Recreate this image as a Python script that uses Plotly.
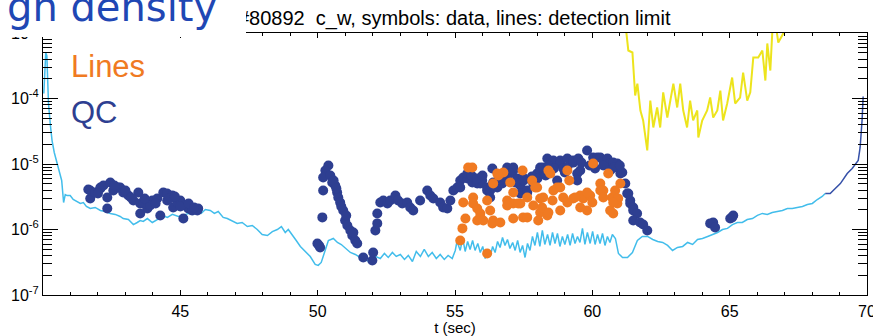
import plotly.graph_objects as go

# ---------------- data ----------------
# QC detection limit (light blue line)
qc_lim_t = [40.03, 40.05, 40.10, 40.14, 40.16, 40.20, 40.27, 40.33, 40.41, 40.51, 40.63, 40.68, 40.75, 40.81,
            40.88, 40.99, 41.10, 41.21, 41.36, 41.47, 41.58, 41.72, 41.90, 42.09, 42.27, 42.45, 42.63, 42.81,
            42.92, 43.11, 43.29, 43.43, 43.54, 43.65, 43.80, 43.98, 44.16, 44.34, 44.53, 44.71, 44.93, 45.11,
            45.29, 45.47, 45.62, 45.76, 45.91, 46.09, 46.24, 46.38, 46.56, 46.71, 46.89, 47.07, 47.25, 47.44,
            47.62, 47.80, 47.98, 48.17, 48.35, 48.53, 48.68, 48.82, 48.93, 49.07, 49.22, 49.37, 49.55, 49.73,
            49.91, 50.02, 50.13, 50.28, 50.39, 50.57, 50.72, 50.86, 51.01, 51.19, 51.37, 51.55, 51.73, 51.92,
            52.10, 52.28, 52.43, 52.57, 52.72, 52.86, 53.01, 53.16, 53.30, 53.45, 53.59, 53.74, 53.88, 54.03,
            54.17, 54.32, 54.46, 54.61, 54.75, 54.90, 55.01, 55.08,
            55.10, 55.19, 55.28, 55.37, 55.46, 55.55, 55.64, 55.73, 55.83, 55.92, 56.01, 56.10, 56.19, 56.28,
            56.37, 56.46, 56.55, 56.64, 56.73, 56.82, 56.91, 57.00, 57.10, 57.19, 57.28, 57.37, 57.46, 57.55,
            57.64, 57.73, 57.82, 57.91, 58.00, 58.09, 58.18, 58.27, 58.37, 58.46, 58.55, 58.64, 58.73, 58.82,
            58.91, 59.00, 59.10, 59.19, 59.28, 59.37, 59.46, 59.55, 59.64, 59.73, 59.82, 59.92, 60.01, 60.10,
            60.19, 60.28, 60.37, 60.46, 60.55, 60.64, 60.73, 60.84, 60.95, 61.10, 61.28, 61.46, 61.64, 61.82,
            62.01, 62.20, 62.38, 62.56, 62.74, 62.92, 63.10, 63.29, 63.47, 63.65, 63.83, 64.01, 64.20, 64.38,
            64.56, 64.74, 64.92, 65.10, 65.28, 65.46, 65.64, 65.83, 66.01, 66.19, 66.37, 66.55, 66.74, 66.92,
            67.10, 67.28, 67.46, 67.65, 67.83, 68.01, 68.19, 68.37, 68.48]
qc_lim_v = [1.19e-4, 1.88e-4, 5.0e-4, 4.5e-4, 1.88e-4, 8.4e-5, 3.87e-5, 2.28e-5, 1.5e-5, 1.02e-5, 6.2e-6, 5.6e-6,
            2.58e-6, 3.42e-6, 3.30e-6, 3.30e-6, 2.87e-6, 2.68e-6, 2.50e-6, 2.58e-6, 2.25e-6, 2.09e-6, 2.17e-6,
            1.95e-6, 1.88e-6, 1.76e-6, 1.70e-6, 1.58e-6, 1.47e-6, 1.42e-6, 1.19e-6, 1.28e-6, 1.37e-6, 1.33e-6,
            1.47e-6, 1.28e-6, 1.42e-6, 1.64e-6, 1.53e-6, 1.70e-6, 1.58e-6, 1.64e-6, 1.76e-6, 1.70e-6, 1.88e-6,
            1.76e-6, 2.02e-6, 1.95e-6, 1.76e-6, 1.88e-6, 1.53e-6, 1.47e-6, 1.33e-6, 1.24e-6, 1.28e-6, 1.11e-6,
            1.15e-6, 1.00e-6, 8.4e-7, 8.1e-7, 9.3e-7, 1.00e-6, 1.11e-6, 9.0e-7, 1.00e-6, 8.4e-7, 6.8e-7, 5.5e-7,
            4.6e-7, 3.87e-7, 2.93e-7, 2.83e-7, 3.14e-7, 4.79e-7, 6.8e-7, 7.3e-7, 6.34e-7, 5.9e-7, 5.14e-7,
            4.46e-7, 4.16e-7, 3.74e-7, 3.49e-7, 3.14e-7, 3.88e-7, 3.61e-7, 4.31e-7, 3.74e-7, 4.46e-7, 3.88e-7,
            4.16e-7, 3.49e-7, 4.02e-7, 3.25e-7, 4.62e-7, 3.88e-7, 4.96e-7, 3.88e-7, 4.46e-7, 3.61e-7, 4.16e-7,
            3.49e-7, 4.02e-7, 3.61e-7, 4.79e-7, 6.8e-7,
            6.12e-7, 4.79e-7, 7.30e-7, 4.62e-7, 6.57e-7, 4.96e-7, 6.80e-7, 4.79e-7, 6.12e-7, 4.46e-7, 5.51e-7,
            3.61e-7, 4.79e-7, 3.88e-7, 5.51e-7, 4.46e-7, 6.57e-7, 5.32e-7, 7.56e-7, 5.71e-7, 7.04e-7, 5.14e-7,
            6.34e-7, 4.79e-7, 6.80e-7, 4.46e-7, 5.71e-7, 3.74e-7, 6.12e-7, 4.79e-7, 7.83e-7, 5.71e-7, 9.00e-7,
            5.51e-7, 9.66e-7, 5.91e-7, 8.39e-7, 5.71e-7, 9.00e-7, 6.12e-7, 8.69e-7, 5.51e-7, 7.83e-7, 5.91e-7,
            8.39e-7, 5.71e-7, 8.69e-7, 6.12e-7, 7.83e-7, 6.34e-7, 1.04e-6, 5.91e-7, 9.00e-7, 6.12e-7, 9.33e-7,
            5.91e-7, 8.39e-7, 6.12e-7, 8.69e-7, 5.71e-7, 7.83e-7, 6.34e-7, 8.39e-7, 7.30e-7, 4.31e-7, 3.74e-7,
            3.74e-7, 4.46e-7, 6.80e-7, 7.83e-7, 7.83e-7, 7.04e-7, 6.57e-7, 6.34e-7, 5.71e-7, 4.79e-7, 5.32e-7,
            5.51e-7, 6.34e-7, 5.91e-7, 7.04e-7, 7.30e-7, 7.83e-7, 8.39e-7, 9.00e-7, 1.00e-6, 1.04e-6, 1.19e-6,
            1.28e-6, 1.28e-6, 1.42e-6, 1.47e-6, 1.64e-6, 1.76e-6, 1.70e-6, 1.82e-6, 1.88e-6, 1.95e-6, 2.09e-6,
            2.09e-6, 2.17e-6, 2.25e-6, 2.41e-6, 2.50e-6, 2.87e-6, 3.19e-6, 3.54e-6]

# QC detection limit, last part (dark blue line)
qc_lim2_t = [68.48, 68.66, 68.77, 69.03, 69.28, 69.46, 69.68, 69.75, 69.82, 69.86]
qc_lim2_v = [3.54e-6, 3.54e-6, 3.94e-6, 5.03e-6, 7.15e-6, 8.52e-6, 1.13e-5, 1.79e-5, 4.62e-5, 1.07e-4]

# Lines detection limit (yellow line)
lines_lim_t = [61.22, 61.31, 61.46, 61.49, 61.56, 61.64, 61.75, 61.85, 62.00, 62.11, 62.22, 62.36, 62.47, 62.58,
               62.73, 62.84, 62.95, 63.09, 63.20, 63.31, 63.45, 63.56, 63.67, 63.82, 63.86, 64.00, 64.18, 64.29,
               64.40, 64.55, 64.66, 64.76, 64.91, 65.09, 65.20, 65.38, 65.49, 65.64, 65.75, 65.86, 66.04, 66.19,
               66.30, 66.37, 66.48, 66.55, 66.66, 66.77, 66.95, 67.06]
lines_lim_v = [1.2e-3, 5.41e-4, 5.04e-4, 3.42e-4, 1.11e-4, 1.69e-4, 6.56e-5, 4.62e-5, 1.61e-5, 9.31e-5, 3.61e-5,
               7.29e-5, 3.61e-5, 1.24e-4, 5.13e-5, 9.31e-5, 1.69e-4, 7.29e-5, 1.69e-4, 6.56e-5, 3.61e-5, 9.31e-5,
               4.62e-5, 6.56e-5, 2.54e-5, 4.62e-5, 6.56e-5, 1.035e-4, 5.13e-5, 6.56e-5, 1.32e-4, 4.62e-5, 8.39e-5,
               2.09e-4, 8.39e-5, 1.035e-4, 2.49e-4, 9.31e-5, 1.24e-4, 4.23e-4, 4.23e-4, 5.41e-4, 1.88e-4, 6.92e-4,
               2.67e-4, 1.0e-3, 1.5e-3, 7.16e-4, 9.8e-4, 1.5e-3]

# QC data (dark blue symbols), density in units of 1e-6
qc_t = [41.65, 41.72, 41.72, 41.90, 42.09, 42.09, 42.20, 42.45, 42.34, 42.56, 42.74, 42.81, 42.92, 43.11, 43.29,
        43.47, 42.34, 43.54, 43.54, 43.65, 43.80, 43.98, 44.16, 44.27, 44.38, 44.52, 44.52, 44.71, 44.74, 44.89,
        45.00, 45.11, 45.18, 45.29, 45.43, 45.62, 45.65, 42.00, 42.60, 43.00, 43.20, 43.90, 44.10, 44.60, 44.80,
        45.00, 45.30, 45.50, 43.70,
        50.39, 50.28, 50.20, 50.46, 50.53, 50.64, 50.20, 50.71, 50.75, 50.82, 50.93, 51.00, 51.08, 51.19, 51.26,
        51.37, 51.44, 50.17, 49.99, 50.09, 51.66, 51.99, 52.02, 50.86, 51.04, 51.30, 50.58, 50.68, 50.05,
        52.10, 52.17, 52.17, 52.28, 52.39, 52.54, 52.64, 52.83, 52.93, 53.08, 53.26, 53.37, 53.48, 53.73, 53.99,
        54.10, 54.21, 54.46, 54.57, 54.72, 54.83, 54.94, 55.08, 55.19, 55.19, 55.30, 55.45, 55.45, 55.63, 55.66,
        55.81, 55.92, 55.99, 56.17, 56.17, 56.28, 56.28, 56.39, 56.36, 56.54, 56.72, 56.90, 57.12, 57.12, 57.01,
        57.27, 57.38, 57.38, 57.48, 57.63, 57.63, 57.85, 57.99, 57.99, 58.10, 58.10, 58.21, 58.36, 58.58, 58.72,
        58.83, 58.83, 58.94, 59.09, 59.09, 59.30, 59.30, 59.45, 59.49, 59.45, 59.56, 59.81, 60.03, 60.18, 60.29,
        60.40, 60.55, 60.65, 60.65, 60.76, 60.91, 61.02, 61.09, 61.20, 61.27, 61.31, 61.38, 61.38, 61.49, 61.49,
        61.63, 61.49, 61.74, 61.85, 62.00, 64.29, 64.40, 64.47, 65.02, 65.09, 65.13,
        55.60, 55.80, 56.00, 56.60, 57.20, 57.80, 58.40, 58.60, 59.00, 59.60, 59.90, 60.10, 60.40, 60.80, 61.00,
        58.00, 58.30, 57.50, 56.80]
qc_v = [4.08, 2.97, 3.94, 3.67, 4.22, 4.38, 4.69, 5.21, 3.08, 3.94, 4.38, 4.38, 3.67, 3.30, 2.77,
        3.67, 2.09, 1.76, 2.50, 2.50, 2.09, 2.77, 2.97, 1.64, 3.67, 2.77, 3.54, 3.30, 2.17, 2.58,
        2.77, 1.47, 2.33, 2.09, 1.95, 1.95, 2.09, 3.54, 4.69, 3.94, 3.08, 2.33, 2.50, 2.97, 3.19,
        2.25, 2.50, 2.17, 2.97,
        9.47, 7.94, 6.21, 6.67, 5.21, 4.69, 3.94, 3.67, 3.08, 2.58, 1.95, 1.37, 1.15, 0.966, 0.81,
        0.68, 0.612, 1.53, 0.612, 0.532, 0.374, 0.337, 0.446, 2.25, 1.64, 0.90, 5.59, 4.22, 0.571,
        0.966, 1.24, 1.76, 2.58, 2.77, 2.50, 2.77, 3.30, 2.77, 2.50, 2.58, 2.17, 1.95, 2.77, 3.94,
        3.30, 2.97, 2.58, 2.17, 2.09, 2.77, 3.94, 4.38, 5.59, 4.38, 6.21, 6.00, 7.15, 5.21, 6.21,
        5.03, 5.03, 5.59, 4.38, 3.94, 3.94, 3.08, 5.21, 8.52, 4.38, 5.03, 8.83, 8.83, 7.94, 7.15,
        6.00, 4.69, 3.54, 6.21, 3.67, 3.94, 5.03, 6.67, 7.15, 7.94, 8.83, 8.83, 12.1, 11.3, 5.59,
        11.3, 10.2, 8.52, 12.1, 8.83, 10.5, 11.3, 7.15, 12.1, 5.59, 7.94, 16.1, 12.6, 12.6, 12.6,
        11.3, 12.1, 10.2, 7.94, 10.5, 10.2, 7.15, 7.41, 5.03, 3.54, 3.54, 2.77, 2.50, 2.17, 1.95,
        1.76, 1.37, 1.28, 1.19, 0.966, 1.24, 1.28, 1.075, 1.47, 1.53, 1.64,
        6.67, 6.00, 6.67, 5.59, 5.21, 6.44, 9.47, 8.52, 7.41, 10.5, 9.47, 8.52, 9.47, 8.83, 9.47,
        6.00, 6.67, 5.59, 6.21]

# Lines data (orange symbols), density in units of 1e-6
lines_t = [55.48, 55.63, 55.30, 55.38, 55.27, 55.19, 55.66, 55.66, 55.81, 55.92, 55.81, 55.92, 56.17, 56.03, 56.28,
           56.39, 56.39, 56.58, 56.76, 56.54, 57.01, 57.12, 56.90, 57.12, 57.38, 57.12, 57.48, 57.63, 57.85, 57.46,
           57.81, 57.99, 58.10, 58.10, 58.21, 58.36, 58.40, 58.47, 58.58, 58.72, 58.83, 58.94, 59.09, 59.16, 59.30,
           59.56, 59.67, 59.92, 59.81, 60.03, 60.29, 60.40, 60.58, 60.72, 60.76, 60.91, 61.02, 56.17, 56.36, 56.65,
           56.90, 57.30, 57.63, 57.92, 58.03, 58.17, 58.55, 58.40, 58.83, 59.09, 59.37, 59.56, 59.81, 60.00, 60.29,
           60.40, 60.65, 60.83, 60.94, 60.76]
lines_v = [8.83, 8.83, 2.58, 1.47, 1.04, 0.68, 3.08, 2.50, 2.09, 1.76, 1.37, 1.53, 2.77, 1.37, 1.95,
           1.37, 5.03, 6.67, 7.41, 7.15, 5.21, 3.67, 2.77, 2.50, 2.50, 1.47, 1.53, 3.08, 2.33, 7.94,
           5.59, 4.38, 2.97, 1.82, 3.08, 1.64, 7.94, 7.15, 3.94, 4.38, 4.38, 3.08, 7.94, 5.59, 2.97,
           3.30, 2.97, 3.30, 1.95, 10.2, 5.03, 3.94, 7.15, 3.08, 1.76, 2.50, 5.03, 0.431, 1.24, 1.28,
           2.33, 2.50, 1.53, 4.38, 1.37, 2.17, 2.77, 1.82, 1.95, 2.58, 3.08, 2.17, 3.67, 2.58, 3.94,
           3.08, 1.95, 3.94, 2.97, 2.58]
DENSITY_UNIT = 1e-6

x_tickvals = [45, 50, 55, 60, 65, 70]
y_tickvals = [1e-7, 1e-6, 1e-5, 1e-4, 1e-3]
y_ticktext = ["10<sup>-7</sup>", "10<sup>-6</sup>", "10<sup>-5</sup>", "10<sup>-4</sup>", "10<sup>-3</sup>"]
y_minor_vals = [m * d for d in [1e-7, 1e-6, 1e-5, 1e-4] for m in range(2, 10)]

title_text = "#80892\u00a0 c_w, symbols: data, lines: detection limit"
big_text = "gh density"

# ---------------- colours ----------------
C_QC = "#2e3f91"
C_LINES = "#f07a22"
C_LIGHT = "#42bdeb"
C_YELLOW = "#ede41c"

fig = go.Figure()
fig.add_trace(go.Scatter(x=qc_lim_t, y=qc_lim_v, mode="lines", line=dict(color=C_LIGHT, width=1.5)))
fig.add_trace(go.Scatter(x=qc_lim2_t, y=qc_lim2_v, mode="lines", line=dict(color="#3550a8", width=1.5)))
fig.add_trace(go.Scatter(x=lines_lim_t, y=lines_lim_v, mode="lines", line=dict(color=C_YELLOW, width=2)))
fig.add_trace(go.Scatter(x=qc_t, y=[v * DENSITY_UNIT for v in qc_v], mode="markers",
                         marker=dict(color=C_QC, size=10, line=dict(width=0))))
fig.add_trace(go.Scatter(x=lines_t, y=[v * DENSITY_UNIT for v in lines_v], mode="markers",
                         marker=dict(color=C_LINES, size=10, line=dict(width=0))))

W, H = 873, 336
ML, MR, MT, MB = 43, 6, 33, 41
PW, PH = W - ML - MR, H - MT - MB


def px(x):
    return (x - ML) / PW


def py(y):
    return (H - MB - y) / PH


FONT = "Liberation Sans, Arial, Helvetica, sans-serif"

annotations = [
    dict(text=title_text, xref="paper", yref="paper", x=px(236), y=py(18), xanchor="left", yanchor="middle",
         showarrow=False, font=dict(family=FONT, size=20, color="black")),
    dict(text="\u00a0", xref="paper", yref="paper", x=px(-4), y=py(-4), xanchor="left", yanchor="top",
         showarrow=False, width=250, height=41, bgcolor="white", borderpad=0, borderwidth=0,
         font=dict(size=10)),
    dict(text=big_text, xref="paper", yref="paper", x=px(5), y=py(7), xanchor="left", yanchor="middle",
         showarrow=False, font=dict(family="DejaVu Sans", size=40, color="#1f47b4")),
    dict(text="Lines", xref="paper", yref="paper", x=px(69), y=py(66), xanchor="left", yanchor="middle",
         showarrow=False, font=dict(family=FONT, size=31, color=C_LINES)),
    dict(text="QC", xref="paper", yref="paper", x=px(69), y=py(112), xanchor="left", yanchor="middle",
         showarrow=False, font=dict(family=FONT, size=31, color=C_QC)),
]

fig.update_layout(
    width=W, height=H, margin=dict(l=ML, r=MR, t=MT, b=MB, pad=0, autoexpand=False),
    paper_bgcolor="white", plot_bgcolor="white", showlegend=False,
    font=dict(family=FONT, color="black"),
    annotations=annotations,
    xaxis=dict(range=[40, 70], tickmode="array", tickvals=x_tickvals, ticks="inside", ticklen=5, tickwidth=1,
               tickcolor="black", showline=True, linecolor="black", linewidth=1, mirror="allticks",
               showgrid=False, zeroline=False, tickfont=dict(size=16), automargin=False,
               ticklabeloverflow="allow", ticklabelstandoff=2,
               minor=dict(dtick=1, ticks="inside", ticklen=3, tickcolor="black", showgrid=False),
               title=dict(text="t (sec)", font=dict(size=15), standoff=4)),
    yaxis=dict(type="log", range=[-7, -3], tickmode="array", tickvals=y_tickvals, ticktext=y_ticktext,
               ticks="inside", ticklen=15, tickwidth=1, tickcolor="black", showline=True, linecolor="black",
               linewidth=1, mirror="allticks", showgrid=False, zeroline=False, tickfont=dict(size=16),
               automargin=False, ticklabeloverflow="allow",
               minor=dict(tickmode="array", tickvals=y_minor_vals, ticks="inside", ticklen=9,
                          tickcolor="black", showgrid=False)),
)

fig.write_html("out.html", config={"displayModeBar": False},
               post_script="document.body.style.margin='0px';document.body.style.padding='0px';")
